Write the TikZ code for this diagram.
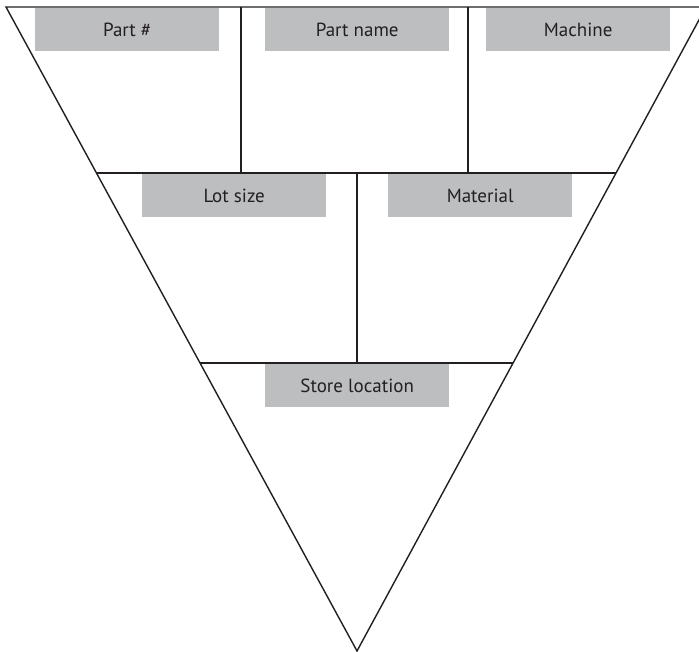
\documentclass[tikz,border=0pt]{standalone}
\usepackage{fontspec}
\setmainfont{PT Sans}
\usetikzlibrary{positioning,calc}
\definecolor{boxgrey}{RGB}{188,190,192}
\definecolor{inkdark}{RGB}{35,31,32}

\begin{document}
\begin{tikzpicture}[x=1pt, y=-1pt,
labelbox/.style={rectangle, fill=boxgrey, text=inkdark, anchor=north west, minimum width=184pt, minimum height=43pt, inner sep=0pt, font=\fontsize{19}{21}\selectfont},
rule/.style={draw=inkdark, line width=1.4pt},
]
\useasboundingbox (0,0) rectangle (699,652);
%Corners
\coordinate (topL) at (6,7);
\coordinate (topR) at (706,7);
\coordinate (apex) at (357,651);
\coordinate (midL) at ($(topL)!0.2578!(apex)$);
\coordinate (midR) at ($(topR)!0.2578!(apex)$);
\coordinate (lowL) at ($(topL)!0.5528!(apex)$);
\coordinate (lowR) at ($(topR)!0.5528!(apex)$);
\coordinate (divA) at (241,7);
\coordinate (divB) at (468,7);
\coordinate (divC) at (357,7);

%Nodes
\node[labelbox] (partno) at (35,8) {Part \#};
\node[labelbox] (partname) at (265,8) {Part name};
\node[labelbox] (machine) at (486,8) {Machine};
\node[labelbox] (lotsize) at (142,174) {Lot size};
\node[labelbox] (material) at (388,174) {Material};
\node[labelbox] (store) at (265,364) {Store location};

%Lines
\draw[rule, line join=miter] (topL) -- (topR) -- (apex) -- cycle;
\draw[rule] (midL) -- (midR);
\draw[rule] (lowL) -- (lowR);
\draw[rule] (divA) -- (divA |- midL);
\draw[rule] (divB) -- (divB |- midL);
\draw[rule] (divC |- midL) -- (divC |- lowL);
\end{tikzpicture}
\end{document}
